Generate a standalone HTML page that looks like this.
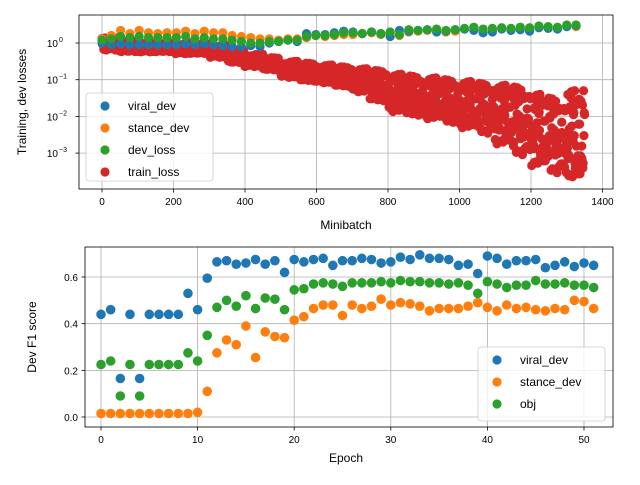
<!DOCTYPE html>
<html><head><meta charset="utf-8"><style>
body{margin:0;background:#fff;}
svg text{font-family:"Liberation Sans","DejaVu Sans",sans-serif;fill:#000;}
</style></head><body>
<svg id="c" width="640" height="480" xmlns="http://www.w3.org/2000/svg"></svg>
<script>
// ---- Top chart data ----
const evalStep = 26;
const viralDev = [1.0,0.9,0.95,0.9,0.9,0.9,0.9,0.9,0.9,0.95,0.9,0.95,0.9,0.85,0.8,0.8,0.85,0.8,1.0,1.1,1.2,1.1,1.8,1.7,1.7,1.9,2.1,2.0,1.8,2.0,1.8,1.5,2.2,2.1,2.2,2.3,2.0,2.1,2.3,2.4,2.2,1.9,2.0,2.4,2.2,2.3,2.1,2.6,2.5,2.4,2.8,3.0];
const stanceDev = [1.3,1.6,2.2,1.8,2.2,1.9,1.8,1.9,1.9,2.1,1.8,2.1,1.9,1.9,1.6,1.5,1.4,1.3,1.3,1.2,1.3,1.3,1.4,1.6,1.5,1.6,1.7,1.7,1.8,1.9,1.7,1.8,1.6,2.0,2.1,2.2,2.3,2.0,2.1,2.4,2.6,2.2,2.2,2.5,2.4,2.5,2.3,2.7,2.6,2.5,2.9,2.8];
const devLoss = [1.2,1.3,1.5,1.4,1.5,1.4,1.4,1.4,1.4,1.5,1.3,1.4,1.3,1.3,1.2,1.1,1.0,1.0,1.1,1.1,1.2,1.2,1.5,1.6,1.6,1.7,1.9,1.9,1.8,2.0,1.8,2.0,1.7,2.3,2.2,2.3,2.4,2.2,2.3,2.5,2.7,2.4,2.5,2.6,2.5,2.7,2.6,2.9,2.8,2.7,3.1,3.1];
const trainBucket = 50;
const trainHiLog = [0.15,0.05,0.02,0,0,-0.02,-0.05,-0.2,-0.3,-0.4,-0.5,-0.55,-0.6,-0.65,-0.7,-0.75,-0.85,-0.9,-0.95,-1.0,-1.05,-1.1,-1.15,-1.2,-1.4,-1.5,-1.3,-1.4];
const trainLoLog = [-0.2,-0.25,-0.25,-0.25,-0.3,-0.3,-0.4,-0.55,-0.65,-0.75,-0.95,-1.05,-1.1,-1.2,-1.35,-1.6,-1.9,-2.0,-2.1,-2.2,-2.35,-2.5,-2.8,-3.1,-3.4,-3.6,-3.8,-3.5];
const topXTicks = [0,200,400,600,800,1000,1200,1400];
const topYTicks = [-3,-2,-1,0];
// ---- Bottom chart data ----
const viralF1 = [0.44,0.46,0.165,0.44,0.165,0.44,0.44,0.44,0.44,0.53,0.46,0.595,0.665,0.67,0.655,0.66,0.675,0.655,0.67,0.62,0.675,0.665,0.675,0.68,0.65,0.67,0.67,0.68,0.675,0.66,0.665,0.685,0.675,0.695,0.68,0.68,0.675,0.65,0.655,0.615,0.69,0.68,0.655,0.67,0.67,0.675,0.64,0.65,0.665,0.645,0.66,0.65];
const stanceF1 = [0.015,0.015,0.015,0.015,0.015,0.015,0.015,0.015,0.015,0.015,0.02,0.11,0.275,0.33,0.31,0.39,0.255,0.365,0.345,0.34,0.415,0.43,0.465,0.48,0.48,0.435,0.48,0.465,0.475,0.505,0.48,0.49,0.485,0.475,0.455,0.465,0.465,0.465,0.475,0.49,0.47,0.455,0.48,0.465,0.47,0.46,0.455,0.465,0.46,0.5,0.495,0.465];
const objF1 = [0.225,0.24,0.09,0.225,0.09,0.225,0.225,0.225,0.225,0.275,0.24,0.35,0.47,0.5,0.475,0.52,0.465,0.51,0.505,0.46,0.545,0.55,0.57,0.575,0.57,0.56,0.575,0.575,0.575,0.58,0.575,0.585,0.58,0.58,0.575,0.575,0.57,0.575,0.565,0.53,0.58,0.57,0.555,0.565,0.565,0.585,0.57,0.57,0.575,0.565,0.565,0.555];
const botXTicks = [0,10,20,30,40,50];
const botYTicks = [0.0,0.2,0.4,0.6];

const NS="http://www.w3.org/2000/svg";
const svg=document.getElementById('c');
function mk(t,a,p){const e=document.createElementNS(NS,t);for(const k in a)e.setAttribute(k,a[k]);(p||svg).appendChild(e);return e;}
const C={b:'#1f77b4',o:'#ff7f0e',g:'#2ca02c',r:'#d62728'};

// top axes
const T={l:79,r:613,t:15,b:189};
const tx=m=>102+0.3575*m;
const ty=lg=>43-36.7*lg;
const gTop=mk('g',{});


topXTicks.forEach(v=>{const x=tx(v);
 mk('line',{x1:x,x2:x,y1:T.t,y2:T.b,stroke:'#b0b0b0','stroke-width':0.8},gTop);
 mk('line',{x1:x,x2:x,y1:T.b,y2:T.b+3.5,stroke:'#000','stroke-width':0.8},gTop);
 const t=mk('text',{x:x,y:T.b+16,'text-anchor':'middle','font-size':10},gTop);t.textContent=v;});
topYTicks.forEach(v=>{const y=ty(v);
 mk('line',{x1:T.l,x2:T.r,y1:y,y2:y,stroke:'#b0b0b0','stroke-width':0.8},gTop);
 mk('line',{x1:T.l-3.5,x2:T.l,y1:y,y2:y,stroke:'#000','stroke-width':0.8},gTop);
 const t=mk('text',{x:T.l-21,y:y+4,'text-anchor':'end','font-size':10},gTop);t.textContent='10';
 const s=mk('text',{x:T.l-20,y:y-1,'font-size':7},gTop);s.textContent=(v<0?'−':'')+Math.abs(v);});
// train loss: each minibatch placed within its bucket's [lo, hi] band (scrambled order)
for(let m=0;m<=1350;m+=1){
 const b=Math.min(Math.floor(m/trainBucket),trainHiLog.length-1);
 const f=((m*m*13+m*29+7)%97)/96;
 const lg=trainHiLog[b]+(trainLoLog[b]-trainHiLog[b])*f;
 const c=mk('circle',{cx:tx(m),cy:ty(lg),r:4.6,fill:C.r},gTop);
 
 
}
[[stanceDev,C.o,'stance-dev-point'],[viralDev,C.b,'viral-dev-point'],[devLoss,C.g,'dev-loss-point']].forEach(([arr,col,nm])=>{
 arr.forEach((v,i)=>{const c=mk('circle',{cx:tx(i*evalStep),cy:ty(Math.log10(v)),r:4.6,fill:col},gTop);
 
 });
});
mk('rect',{x:T.l,y:T.t,width:T.r-T.l,height:T.b-T.t,fill:'none',stroke:'#000','stroke-width':0.8},gTop);
let t1=mk('text',{x:346,y:229,'text-anchor':'middle','font-size':12},gTop);t1.textContent='Minibatch';

let t2=mk('text',{x:26,y:102,'text-anchor':'middle','font-size':12,transform:'rotate(-90 26 102)'},gTop);t2.textContent='Training, dev losses';


function legend(x,y,w,h,items,name){
 const g=mk('g',{});
 
 
 mk('rect',{x:x,y:y,width:w,height:h,rx:3,fill:'#fff','fill-opacity':0.8,stroke:'#ccc','stroke-width':0.8},g);
 items.forEach(([lab,col],i)=>{const yy=y+12+i*22;
  mk('circle',{cx:x+19,cy:yy+1,r:4.6,fill:col},g);
  const t=mk('text',{x:x+42,y:yy+5,'font-size':12},g);t.textContent=lab;});
}
legend(86,93,127,88,[['viral_dev',C.b],['stance_dev',C.o],['dev_loss',C.g],['train_loss',C.r]],'top-legend');

// bottom axes
const B={l:85,r:613,t:247,b:427};
const bx=e=>101+9.66*e;
const by=v=>417-233.3*v;
const gB=mk('g',{});


botXTicks.forEach(v=>{const x=bx(v);
 mk('line',{x1:x,x2:x,y1:B.t,y2:B.b,stroke:'#b0b0b0','stroke-width':0.8},gB);
 mk('line',{x1:x,x2:x,y1:B.b,y2:B.b+3.5,stroke:'#000','stroke-width':0.8},gB);
 const t=mk('text',{x:x,y:B.b+16,'text-anchor':'middle','font-size':10},gB);t.textContent=v;});
botYTicks.forEach(v=>{const y=by(v);
 mk('line',{x1:B.l,x2:B.r,y1:y,y2:y,stroke:'#b0b0b0','stroke-width':0.8},gB);
 mk('line',{x1:B.l-3.5,x2:B.l,y1:y,y2:y,stroke:'#000','stroke-width':0.8},gB);
 const t=mk('text',{x:B.l-7,y:y+4,'text-anchor':'end','font-size':10},gB);t.textContent=v.toFixed(1);});
[[viralF1,C.b,'viral-f1-point'],[stanceF1,C.o,'stance-f1-point'],[objF1,C.g,'obj-f1-point']].forEach(([arr,col,nm])=>{
 arr.forEach((v,i)=>{const c=mk('circle',{cx:bx(i),cy:by(v),r:4.8,fill:col},gB);
 
 });
});
mk('rect',{x:B.l,y:B.t,width:B.r-B.l,height:B.b-B.t,fill:'none',stroke:'#000','stroke-width':0.8},gB);
let t3=mk('text',{x:346,y:462,'text-anchor':'middle','font-size':12},gB);t3.textContent='Epoch';

let t4=mk('text',{x:36,y:337,'text-anchor':'middle','font-size':12,transform:'rotate(-90 36 337)'},gB);t4.textContent='Dev F1 score';

legend(478,347,127,74,[['viral_dev',C.b],['stance_dev',C.o],['obj',C.g]],'bottom-legend');
</script>
</body></html>
